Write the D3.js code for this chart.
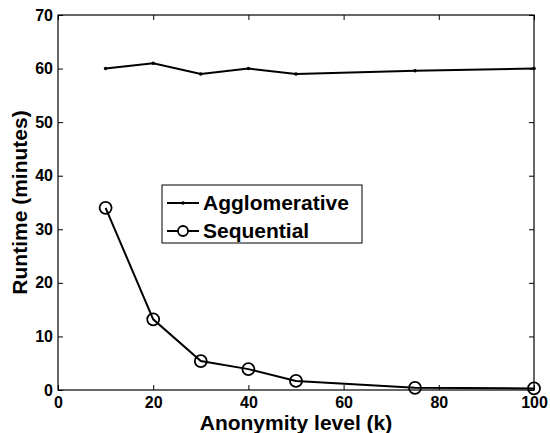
<!DOCTYPE html>
<html>
<head>
<meta charset="utf-8">
<script src="https://cdn.jsdelivr.net/npm/d3@7/dist/d3.min.js"></script>
<style>
  body { margin: 0; background: #fff; }
  text { font-family: "Liberation Sans", Arial, sans-serif; font-weight: bold; fill: #000; }
</style>
</head>
<body>
<div id="chart"></div>
<script>
'use strict';

var kLevels = [10, 20, 30, 40, 50, 75, 100];
var agglomerative = [60, 61, 59, 60, 59, 59.6, 60];
var sequential = [34, 13.2, 5.4, 3.9, 1.7, 0.4, 0.3];
var xTicks = [0, 20, 40, 60, 80, 100];
var yTicks = [0, 10, 20, 30, 40, 50, 60, 70];
var seriesNames = ["Agglomerative", "Sequential"];

var width = 550, height = 433;
var plotLeft = 58, plotRight = 534, plotTop = 15, plotBottom = 390;

var svg = d3.select("#chart").append("svg")
    .attr("width", width)
    .attr("height", height);

var x = d3.scaleLinear().domain([0, 100]).range([plotLeft, plotRight]);
var y = d3.scaleLinear().domain([0, 70]).range([plotBottom, plotTop]);

// box
svg.append("rect")
    .attr("x", plotLeft).attr("y", plotTop)
    .attr("width", plotRight - plotLeft).attr("height", plotBottom - plotTop)
    .attr("fill", "none").attr("stroke", "#000").attr("stroke-width", 1.2);

// axes with inward ticks
function styleAxis(g) {
    g.select(".domain").remove();
    g.selectAll(".tick line").attr("stroke", "#000");
    g.selectAll(".tick text").attr("font-size", "16px").attr("font-weight", "bold");
}

svg.append("g").attr("transform", "translate(0," + plotBottom + ")")
    .call(d3.axisBottom(x).tickValues(xTicks).tickSizeInner(-5).tickSizeOuter(0).tickPadding(7))
    .call(styleAxis);
svg.append("g").attr("transform", "translate(0," + plotTop + ")")
    .call(d3.axisTop(x).tickValues(xTicks).tickSizeInner(-5).tickSizeOuter(0).tickFormat(""))
    .call(styleAxis);
svg.append("g").attr("transform", "translate(" + plotLeft + ",0)")
    .call(d3.axisLeft(y).tickValues(yTicks).tickSizeInner(-5).tickSizeOuter(0).tickPadding(5))
    .call(styleAxis);
svg.append("g").attr("transform", "translate(" + plotRight + ",0)")
    .call(d3.axisRight(y).tickValues(yTicks).tickSizeInner(-5).tickSizeOuter(0).tickFormat(""))
    .call(styleAxis);

// lines
var line = d3.line().x(d => x(d[0])).y(d => y(d[1]));
var aggData = kLevels.map((k, i) => [k, agglomerative[i]]);
var seqData = kLevels.map((k, i) => [k, sequential[i]]);

svg.append("path").datum(aggData).attr("d", line)
    .attr("fill", "none").attr("stroke", "#000").attr("stroke-width", 2);
svg.selectAll(".aggDot").data(aggData).enter().append("circle")
    .attr("cx", d => x(d[0])).attr("cy", d => y(d[1])).attr("r", 1.8).attr("fill", "#000");

svg.append("path").datum(seqData).attr("d", line)
    .attr("fill", "none").attr("stroke", "#000").attr("stroke-width", 2);
svg.selectAll(".seqDot").data(seqData).enter().append("circle")
    .attr("cx", d => x(d[0])).attr("cy", d => y(d[1])).attr("r", 6)
    .attr("fill", "none").attr("stroke", "#000").attr("stroke-width", 1.8);

// axis titles
svg.append("text")
    .attr("x", (plotLeft + plotRight) / 2).attr("y", 430)
    .attr("text-anchor", "middle").attr("font-size", "21px")
    .text("Anonymity level (k)");
svg.append("text")
    .attr("transform", "translate(27," + ((plotTop + plotBottom) / 2) + ") rotate(-90)")
    .attr("text-anchor", "middle").attr("font-size", "21px")
    .text("Runtime (minutes)");

// legend
var legend = svg.append("g");
legend.append("rect")
    .attr("x", 162).attr("y", 185).attr("width", 200).attr("height", 58)
    .attr("fill", "#fff").attr("stroke", "#000").attr("stroke-width", 1);
var rows = [203, 231];
seriesNames.forEach(function(name, i) {
    legend.append("line")
        .attr("x1", 167).attr("x2", 199).attr("y1", rows[i]).attr("y2", rows[i])
        .attr("stroke", "#000").attr("stroke-width", 2);
    if (i === 0) {
        legend.append("circle").attr("cx", 183).attr("cy", rows[i]).attr("r", 1.8).attr("fill", "#000");
    } else {
        legend.append("circle").attr("cx", 183).attr("cy", rows[i]).attr("r", 5)
            .attr("fill", "#fff").attr("stroke", "#000").attr("stroke-width", 1.8);
    }
    legend.append("text")
        .attr("x", 203).attr("y", rows[i] + 6.5)
        .attr("font-size", "21px")
        .text(name);
});
</script>
</body>
</html>
